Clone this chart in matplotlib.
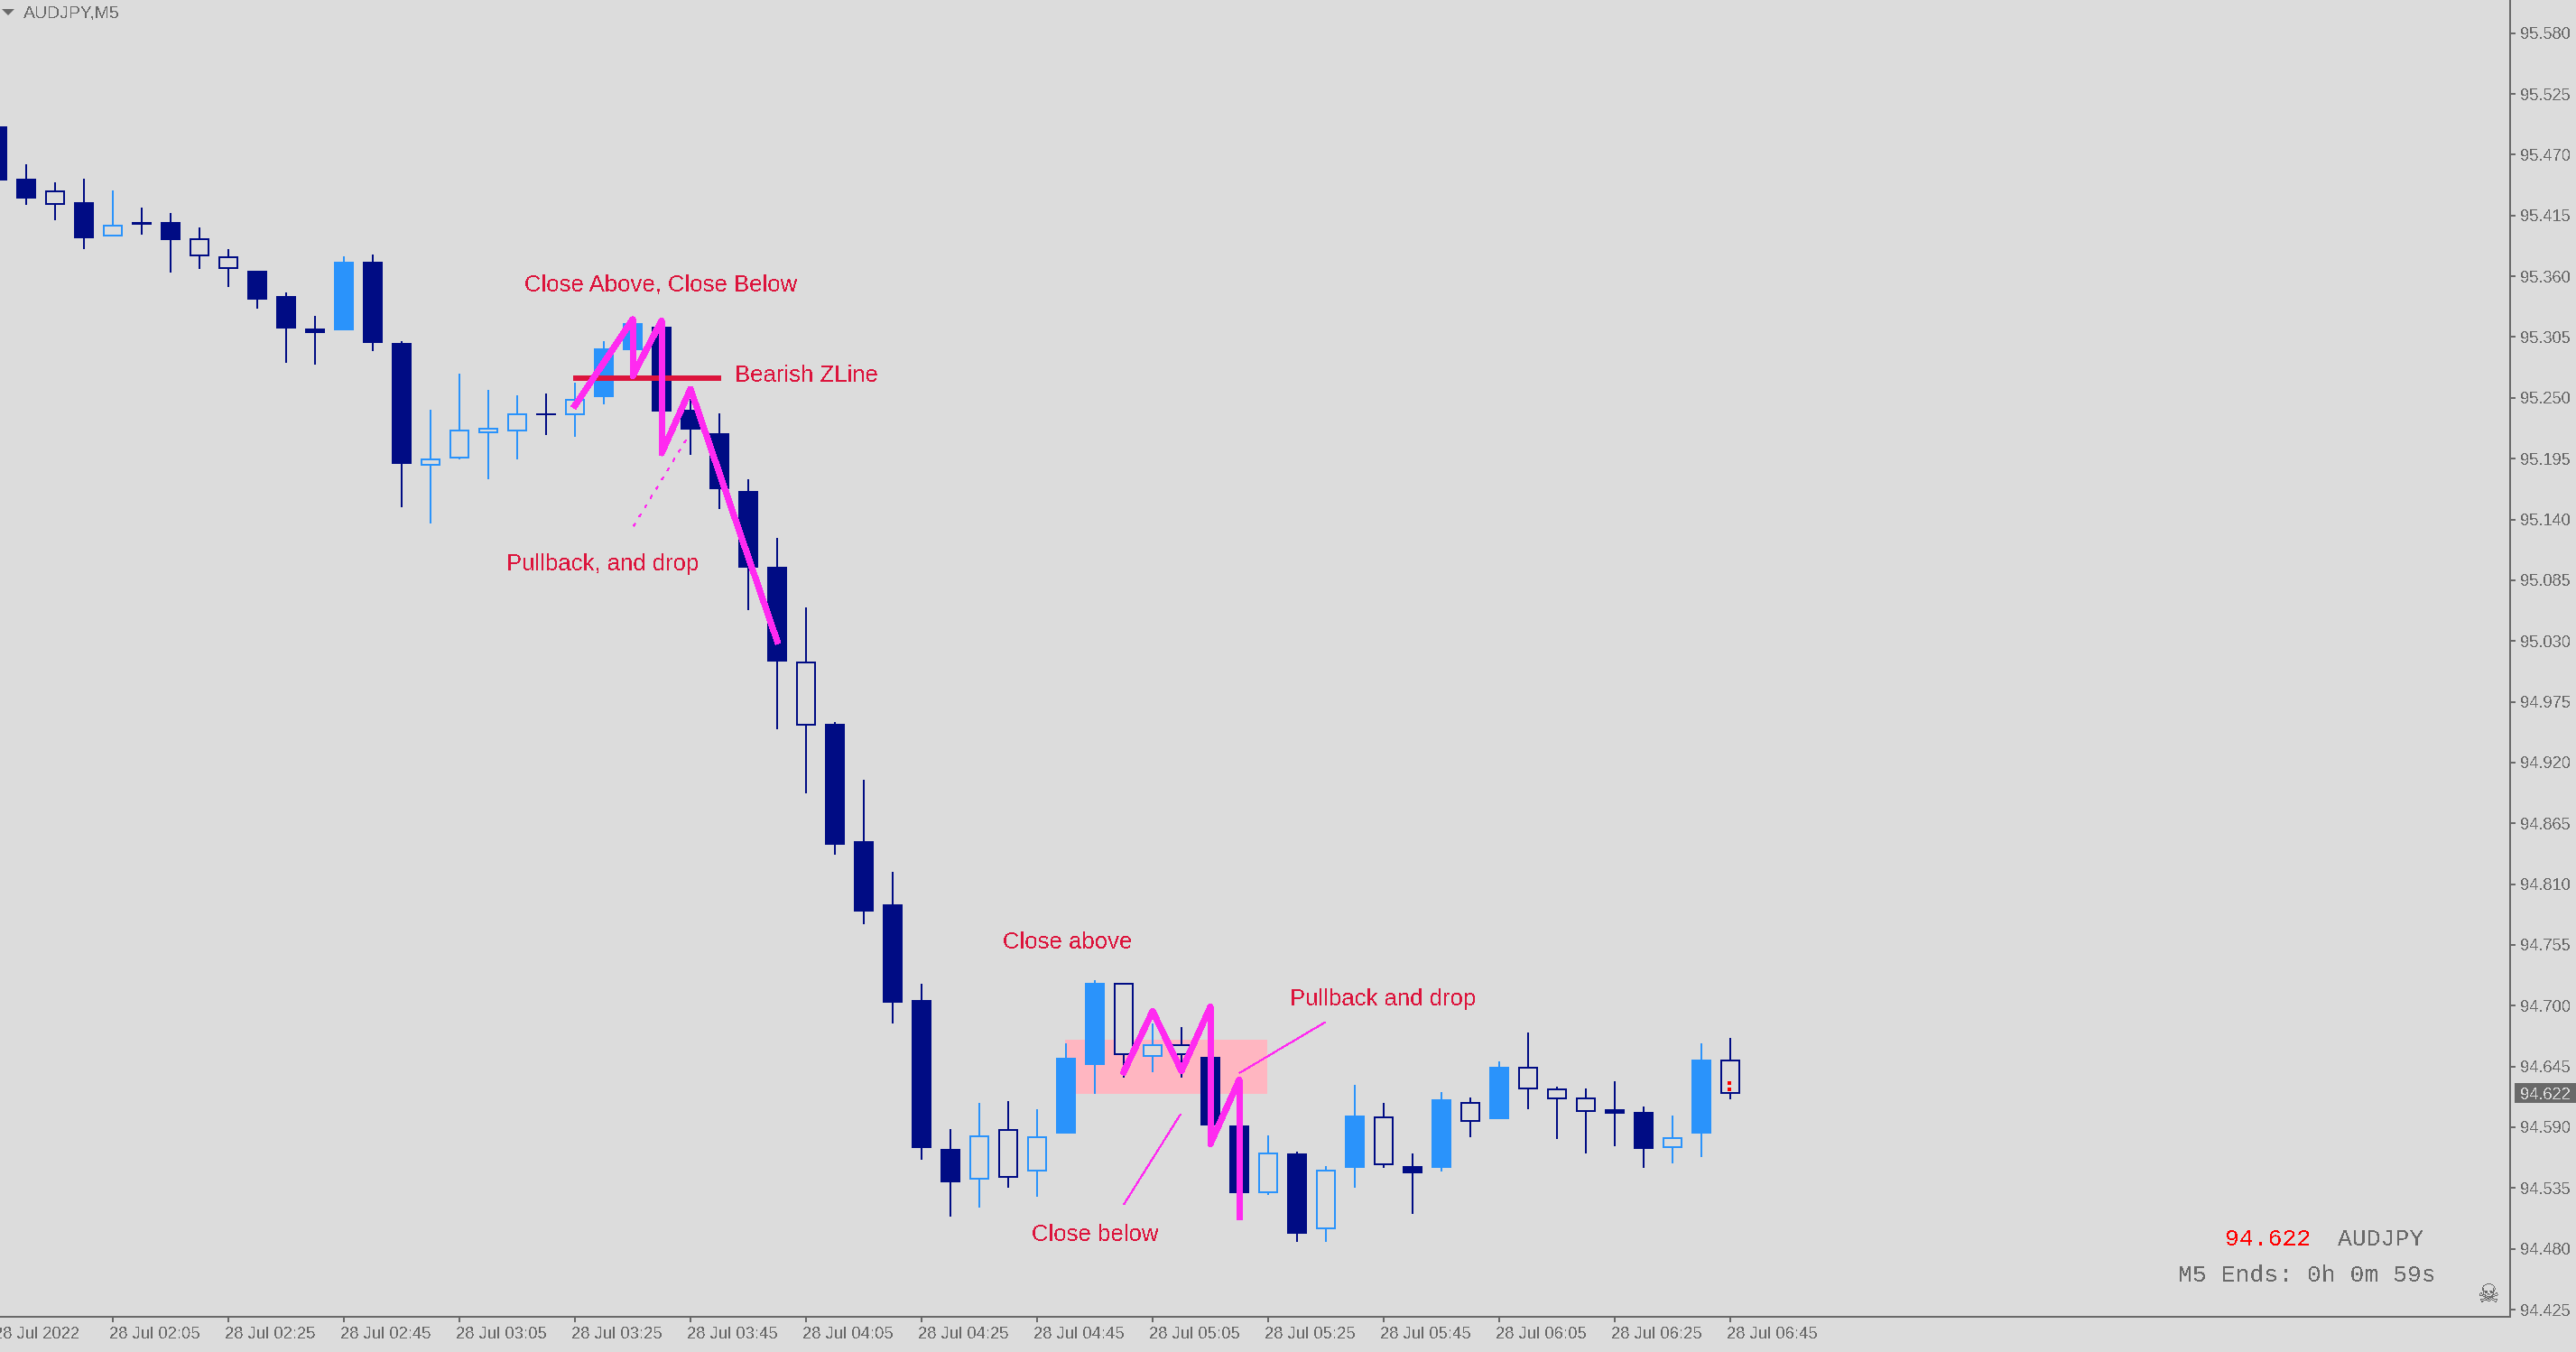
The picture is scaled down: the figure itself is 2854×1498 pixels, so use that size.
import matplotlib
import matplotlib.pyplot as plt
from matplotlib.patches import Polygon, Rectangle
from matplotlib.transforms import ScaledTranslation
matplotlib.use("agg")

# candle values, first bar sits just off the left edge
bar_index = list(range(-1, 60))
highs = [
    95.496, 95.461, 95.445, 95.448, 95.438, 95.422, 95.417, 95.404, 95.385, 95.365,
    95.345, 95.324, 95.378, 95.380, 95.301, 95.239, 95.272, 95.257, 95.252, 95.254,
    95.264, 95.301, 95.324, 95.314, 95.249, 95.236, 95.176, 95.123, 95.060, 94.957,
    94.904, 94.821, 94.720, 94.588, 94.612, 94.614, 94.606, 94.666, 94.723, 94.721,
    94.684, 94.681, 94.654, 94.592, 94.583, 94.568, 94.555, 94.628, 94.612, 94.566,
    94.622, 94.617, 94.650, 94.676, 94.627, 94.625, 94.632, 94.609, 94.601, 94.666,
    94.671,
]
body_tops = [
    95.496, 95.448, 95.438, 95.427, 95.407, 95.409, 95.409, 95.394, 95.378, 95.365,
    95.342, 95.313, 95.373, 95.373, 95.300, 95.195, 95.221, 95.223, 95.236, 95.236,
    95.249, 95.295, 95.318, 95.314, 95.239, 95.218, 95.166, 95.097, 95.011, 94.955,
    94.849, 94.792, 94.705, 94.570, 94.583, 94.588, 94.582, 94.653, 94.721, 94.721,
    94.665, 94.665, 94.654, 94.592, 94.567, 94.566, 94.552, 94.601, 94.600, 94.555,
    94.615, 94.613, 94.645, 94.645, 94.625, 94.617, 94.606, 94.604, 94.581, 94.651,
    94.651,
]
body_bottoms = [
    95.447, 95.430, 95.425, 95.394, 95.396, 95.407, 95.393, 95.378, 95.367, 95.339,
    95.313, 95.309, 95.311, 95.300, 95.190, 95.189, 95.195, 95.218, 95.220, 95.234,
    95.234, 95.251, 95.293, 95.238, 95.221, 95.167, 95.096, 95.011, 94.953, 94.846,
    94.785, 94.703, 94.571, 94.540, 94.543, 94.544, 94.550, 94.584, 94.646, 94.655,
    94.654, 94.655, 94.592, 94.530, 94.530, 94.494, 94.498, 94.553, 94.556, 94.548,
    94.553, 94.595, 94.597, 94.624, 94.615, 94.604, 94.602, 94.570, 94.571, 94.584,
    94.620,
]
lows = [
    95.447, 95.425, 95.411, 95.385, 95.396, 95.398, 95.363, 95.367, 95.350, 95.331,
    95.282, 95.280, 95.311, 95.292, 95.151, 95.136, 95.194, 95.176, 95.194, 95.216,
    95.215, 95.244, 95.293, 95.238, 95.198, 95.149, 95.058, 94.950, 94.892, 94.837,
    94.774, 94.684, 94.561, 94.509, 94.517, 94.535, 94.527, 94.584, 94.620, 94.635,
    94.640, 94.635, 94.592, 94.507, 94.529, 94.486, 94.486, 94.535, 94.553, 94.512,
    94.550, 94.581, 94.597, 94.606, 94.579, 94.566, 94.573, 94.553, 94.557, 94.563,
    94.615,
]
# d = navy series, b = blue series; 1 = solid body, 0 = hollow body
bar_side = "ddddbddddd" "ddbddbbbbd" "bbbddddddd" "ddddbdbbbd" "bdddbdbbdd" "bdbdddddbbd"
bar_solid = "1101011001" "1111100001" "0111111101" "1111000110" "0011010101" "10100011010"

price_ticks = [
    95.580, 95.525, 95.470, 95.415, 95.360, 95.305, 95.250, 95.195, 95.140, 95.085, 95.030,
    94.975, 94.920, 94.865, 94.810, 94.755, 94.700, 94.645, 94.590, 94.535, 94.480, 94.425,
]
time_ticks = list(range(-1, 60, 4))
time_labels = [
    "28 Jul 2022", "28 Jul 02:05", "28 Jul 02:25", "28 Jul 02:45", "28 Jul 03:05",
    "28 Jul 03:25", "28 Jul 03:45", "28 Jul 04:05", "28 Jul 04:25", "28 Jul 04:45",
    "28 Jul 05:05", "28 Jul 05:25", "28 Jul 05:45", "28 Jul 06:05", "28 Jul 06:25",
    "28 Jul 06:45",
]

# drawn objects on the chart
zigzag_1_x = [19, 21, 21, 22, 22, 23, 26]
zigzag_1_y = [95.243, 95.321, 95.270, 95.320, 95.200, 95.258, 95.030]
zigzag_2_x = [38, 39, 40, 41, 41, 42, 42]
zigzag_2_y = [94.640, 94.695, 94.641, 94.699, 94.575, 94.633, 94.509]
zline_x = [18.94, 24.06]
zline_y = [95.268, 95.268]
pointer_1_x = [21.03, 22.94]
pointer_1_y = [95.134, 95.216]
pointer_2_x = [38, 39.97]
pointer_2_y = [94.520, 94.602]
pointer_3_x = [42, 44.97]
pointer_3_y = [94.639, 94.685]
zone_x = [35.97, 42.97]
zone_y = [94.620, 94.669]
last_price = 94.622
tick_marks_x = [58.97, 58.97]
tick_marks_y = [94.630, 94.624]

W, H = 2854, 1498
BG = "#DCDCDC"
AXIS = "#696969"
NAVY = "#000C84"
BLUE = "#2A93FB"
MAGENTA = "#FF2AF0"
CRIMSON = "#DC143C"
PX = 0.72  # one pixel in points at dpi 100
PRICE_PX = 0.00081666

plt.rcParams["font.family"] = ["Liberation Sans", "DejaVu Sans"]
plt.rcParams["text.antialiased"] = False


def px(x, y):
    return x / W, 1 - y / H


fig = plt.figure(figsize=(W / 100, H / 100), dpi=100, facecolor=BG)
ax = fig.add_axes([-6 / W, (H - 1459) / H, 2787 / W, 1459 / H], facecolor=BG)
ax.set_xlim(-1.094, 86)
ax.set_ylim(95.610 - 1459 * PRICE_PX, 95.610)

ax.add_patch(Rectangle((zone_x[0], zone_y[0]), zone_x[1] - zone_x[0], zone_y[1] - zone_y[0],
                       facecolor="#FFB6C1", edgecolor="none", zorder=1))

for i, k in enumerate(bar_index):
    col = NAVY if bar_side[i] == "d" else BLUE
    ax.vlines(k, lows[i], highs[i], colors=col, linewidth=2 * PX, antialiased=False, zorder=2)
    if bar_solid[i] == "1":
        ax.bar(k, body_tops[i] - body_bottoms[i], bottom=body_bottoms[i], width=22 / 32,
               color=col, linewidth=0, zorder=3)
    else:
        ax.bar(k, body_tops[i] - body_bottoms[i] - 2 * PRICE_PX, bottom=body_bottoms[i] + PRICE_PX,
               width=20 / 32, facecolor=BG, edgecolor=col, linewidth=2 * PX, zorder=3)

ax.plot(zline_x, zline_y, color=CRIMSON, linewidth=6 * PX, solid_capstyle="butt", zorder=4)
for xs, ys in [(zigzag_1_x, zigzag_1_y), (zigzag_2_x, zigzag_2_y)]:
    ax.plot(xs, ys, color=MAGENTA, linewidth=6 * PX, antialiased=False, solid_joinstyle="round", zorder=6)
ax.plot(pointer_1_x, pointer_1_y, color=MAGENTA, linewidth=1 * PX, linestyle=(0, (4, 9)),
        antialiased=False, zorder=5)
for xs, ys in [(pointer_2_x, pointer_2_y), (pointer_3_x, pointer_3_y)]:
    ax.plot(xs, ys, color=MAGENTA, linewidth=1 * PX, linestyle=(0, (5, 1)),
            antialiased=False, zorder=5)
ax.plot(tick_marks_x, tick_marks_y, "s", color="#FF0000", markersize=4 * PX, markeredgewidth=0, zorder=7)

for side in ["top", "left"]:
    ax.spines[side].set_visible(False)
for side in ["right", "bottom"]:
    ax.spines[side].set_color(AXIS)
    ax.spines[side].set_linewidth(2 * PX)

ax.yaxis.tick_right()
ax.set_yticks(price_ticks, [f"{v:.3f}" for v in price_ticks])
ax.set_xticks(time_ticks, time_labels, ha="left")
ax.tick_params(axis="y", length=6 * PX, width=2 * PX, color=AXIS, labelcolor=AXIS, labelsize=13.2, pad=5 * PX)
ax.tick_params(axis="x", length=6 * PX, width=2 * PX, color=AXIS, labelcolor=AXIS, labelsize=13.3, pad=5 * PX)
shift = ScaledTranslation(-3.6 / 100, 0, fig.dpi_scale_trans)
for label in ax.get_xticklabels():
    label.set_transform(label.get_transform() + shift)

# chart annotations
notes = [
    ("Close Above, Close Below", 581, 322),
    ("Bearish ZLine", 814, 423),
    ("Pullback, and drop", 561, 632),
    ("Close above", 1111, 1051),
    ("Close below", 1143, 1375),
    ("Pullback and drop", 1429, 1114),
]
for text, x, y in notes:
    fx, fy = px(x, y)
    fig.text(fx, fy, text, color=CRIMSON, fontsize=18.5, va="baseline", ha="left")

fx, fy = px(26, 19)
fig.text(fx, fy, "AUDJPY,M5", color=AXIS, fontsize=14, va="baseline", ha="left")
fig.add_artist(Polygon([px(2, 10), px(16, 10), px(9, 17)], closed=True, facecolor=AXIS,
                       edgecolor="none", transform=fig.transFigure))

# current price tag on the axis
x0, y0 = px(2786, 1222)
x1, y1 = px(2854, 1200)
fig.add_artist(Rectangle((x0, y0), x1 - x0, y1 - y0, facecolor=AXIS, edgecolor="none",
                         transform=fig.transFigure))
fx, fy = px(2792, 1211)
fig.text(fx, fy, f"{last_price:.3f}", color=BG, fontsize=13.2, va="center_baseline", ha="left")

# corner info block
mono = ["Liberation Mono", "DejaVu Sans Mono"]
fx, fy = px(2465, 1380)
fig.text(fx, fy, f"{last_price:.3f}", color="#FF0000", fontsize=19, family=mono, va="baseline")
fx, fy = px(2590, 1380)
fig.text(fx, fy, "AUDJPY", color=AXIS, fontsize=19, family=mono, va="baseline")
fx, fy = px(2413, 1420)
fig.text(fx, fy, "M5 Ends: 0h 0m 59s", color=AXIS, fontsize=19, family=mono, va="baseline")
fx, fy = px(2758, 1443)
fig.text(fx, fy, "\u2620", color=AXIS, fontsize=20, family="DejaVu Sans", va="baseline", ha="center")

fig.savefig("out.png", dpi=100, facecolor=BG)
